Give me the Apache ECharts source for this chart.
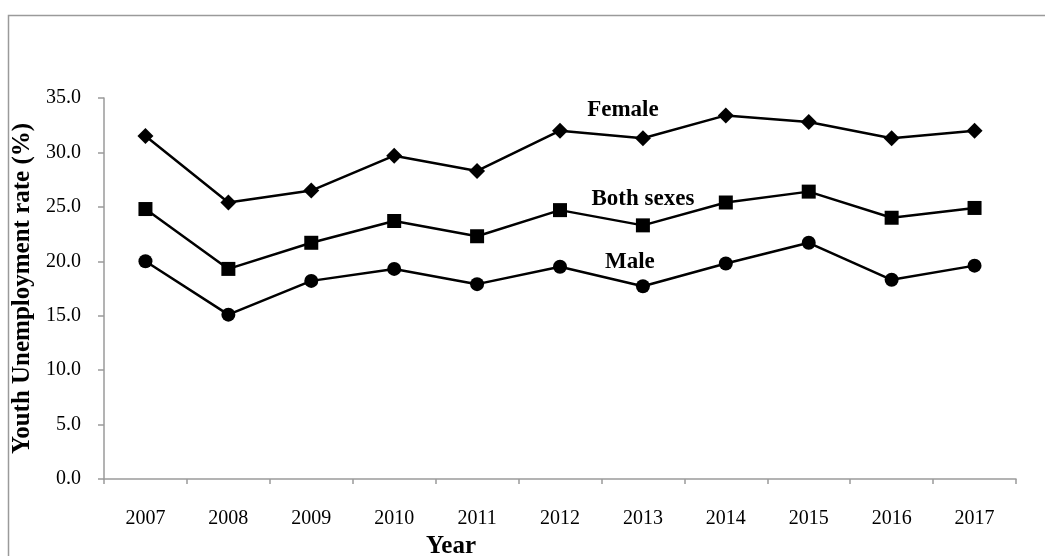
<!DOCTYPE html>
<html>
<head>
<meta charset="utf-8">
<script src="https://cdn.jsdelivr.net/npm/echarts@6/dist/echarts.min.js"></script>
<style>
html,body{margin:0;padding:0;background:#fff;}
#chart{width:1045px;height:556px;}
</style>
</head>
<body>
<div id="chart"></div>
<script>
var years = ['2007','2008','2009','2010','2011','2012','2013','2014','2015','2016','2017'];
var female = [31.5, 25.4, 26.5, 29.7, 28.3, 32.0, 31.3, 33.4, 32.8, 31.3, 32.0];
var bothSexes = [24.8, 19.3, 21.7, 23.7, 22.3, 24.7, 23.3, 25.4, 26.4, 24.0, 24.9];
var male = [20.0, 15.1, 18.2, 19.3, 17.9, 19.5, 17.7, 19.8, 21.7, 18.3, 19.6];
var yTicks = { min: 0, max: 35, interval: 5 };

var FONT = '"Liberation Serif", "Times New Roman", serif';
var axisGray = '#9a9a9a';

function withLabel(values, idx, text, offset) {
  return values.map(function (v, i) {
    if (i !== idx) return v;
    return {
      value: v,
      label: {
        show: true,
        formatter: text,
        position: 'inside',
        offset: offset,
        color: '#000',
        fontFamily: FONT,
        fontWeight: 'bold',
        fontSize: 23
      }
    };
  });
}

var chart = echarts.init(document.getElementById('chart'));
chart.setOption({
  animation: false,
  backgroundColor: '#fff',
  graphic: [{
    type: 'rect',
    shape: { x: 8.5, y: 15.5, width: 1100, height: 600 },
    style: { fill: 'none', stroke: axisGray, lineWidth: 1.5 },
    silent: true
  }],
  grid: { left: 104, right: 29, top: 98, bottom: 77, containLabel: false, outerBoundsMode: 'none' },
  xAxis: {
    type: 'category',
    data: years,
    boundaryGap: true,
    name: 'Year',
    nameLocation: 'middle',
    nameGap: 44,
    nameTextStyle: {
      fontFamily: FONT, fontWeight: 'bold', fontSize: 25, color: '#000',
      padding: [0, 218, 0, 0]
    },
    axisLine: { lineStyle: { color: axisGray, width: 1.5 } },
    axisTick: { show: true, alignWithLabel: false, length: 5, lineStyle: { color: axisGray, width: 1.5 } },
    axisLabel: { fontFamily: FONT, fontSize: 20, color: '#000', margin: 30 },
    splitLine: { show: false }
  },
  yAxis: {
    type: 'value',
    min: yTicks.min,
    max: yTicks.max,
    interval: yTicks.interval,
    name: 'Youth Unemployment rate (%)',
    nameLocation: 'middle',
    nameGap: 63,
    nameTextStyle: { fontFamily: FONT, fontWeight: 'bold', fontSize: 25, color: '#000' },
    axisLine: { show: true, lineStyle: { color: axisGray, width: 1.5 } },
    axisTick: { show: true, length: 6, lineStyle: { color: axisGray, width: 1.5 } },
    axisLabel: {
      fontFamily: FONT, fontSize: 20, color: '#000', margin: 23,
      formatter: function (v) { return v.toFixed(1); }
    },
    splitLine: { show: false }
  },
  series: [
    {
      name: 'Female', type: 'line',
      data: withLabel(female, 6, 'Female', [-20, -28]),
      symbol: 'diamond', symbolSize: 16,
      lineStyle: { color: '#000', width: 2.5 },
      itemStyle: { color: '#000' }
    },
    {
      name: 'Both sexes', type: 'line',
      data: withLabel(bothSexes, 6, 'Both sexes', [0, -26]),
      symbol: 'rect', symbolSize: 14,
      lineStyle: { color: '#000', width: 2.5 },
      itemStyle: { color: '#000' }
    },
    {
      name: 'Male', type: 'line',
      data: withLabel(male, 6, 'Male', [-13, -24]),
      symbol: 'circle', symbolSize: 14,
      lineStyle: { color: '#000', width: 2.5 },
      itemStyle: { color: '#000' }
    }
  ]
});
</script>
</body>
</html>
